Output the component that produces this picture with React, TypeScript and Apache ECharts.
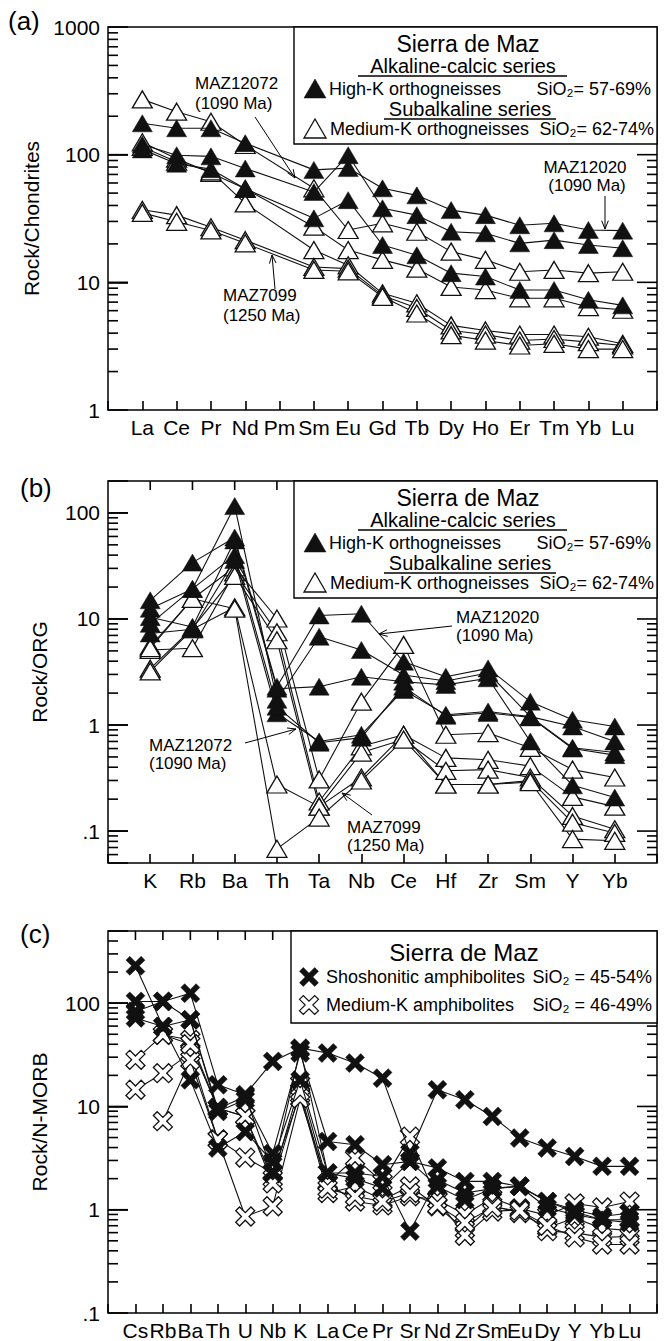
import React, { useEffect, useRef } from 'react';
import * as echarts from 'echarts';

const FONT = '"Liberation Sans", Arial, Helvetica, sans-serif';

// ---------- categories ----------
const REE_LABELS = ['La', 'Ce', 'Pr', 'Nd', 'Pm', 'Sm', 'Eu', 'Gd', 'Tb', 'Dy', 'Ho', 'Er', 'Tm', 'Yb', 'Lu'];
const ORG_LABELS = ['K', 'Rb', 'Ba', 'Th', 'Ta', 'Nb', 'Ce', 'Hf', 'Zr', 'Sm', 'Y', 'Yb'];
const MORB_LABELS = ['Cs', 'Rb', 'Ba', 'Th', 'U', 'Nb', 'K', 'La', 'Ce', 'Pr', 'Sr', 'Nd', 'Zr', 'Sm', 'Eu', 'Dy', 'Y', 'Yb', 'Lu'];

// ---------- panel (a): Rock/Chondrites ----------
const A_HIGHK_1 = [176, 161, 161, 123, null, 76, 78.5, 54.5, 48, 36.8, 33.6, 28, 29, 25.7, 25.4];
const A_HIGHK_2 = [120, 99, 97, 78, null, 51, 99, 38, 33.6, 24.9, 24.2, 20.2, 21.4, 19.6, 18.5];
const A_HIGHK_3 = [110, 85, 77, 54, null, 31.7, 44, 19.6, 16.3, 11.8, 11.1, 8.7, 8.7, 7.3, 6.6];
const A_MEDK_1 = [271, 217, 181, 119, null, 54.5, 25.7, 29, 24.9, 17.4, 15, 12.1, 12.5, 11.8, 12.1];
const A_MEDK_2 = [125, 93, 72, 54, null, 27.3, 17.9, 15, 12.8, 9.2, 8.7, 7.5, 7.5, 6.4, 6.1];
const A_MEDK_3 = [115, 88, 74, 41.5, null, 17.9, 13.6, 8.2, 6.85, 4.6, 4.2, 3.9, 3.9, 3.75, 3.3];
const A_MEDK_4 = [37, 33.6, 27, 21.4, null, 13.2, 12.8, 7.9, 6.3, 4.2, 3.9, 3.5, 3.6, 3.4, 3.2];
const A_MEDK_5 = [35, 29.8, 25.5, 20.2, null, 12.5, 12.2, 7.7, 5.7, 3.86, 3.5, 3.2, 3.3, 3.0, 3.0];

// ---------- panel (b): Rock/ORG ----------
const B_HIGHK_1 = [15, 34, 58.6, 2.3, 10.8, 11.2, 3.95, 2.85, 3.42, 1.66, 1.12, 0.97];
const B_HIGHK_2 = [12.5, 19.2, 116, 1.73, 6.8, 5.1, 2.96, 2.6, 3.1, 1.2, 0.97, 0.7];
const B_HIGHK_3 = [10.4, 8.4, 55, 2.2, 2.3, 2.85, 2.56, 2.39, 2.76, 0.7, 0.27, 0.207];
const B_HIGHK_4 = [7.3, 8.0, 36, 1.29, 0.7, 0.81, 2.14, 1.25, 1.34, 1.2, 0.61, 0.55];
const B_HIGHK_5 = [9.0, 19.2, 40, 1.49, 0.68, 0.76, 2.3, 1.22, 1.3, 1.18, 0.6, 0.52];
const B_MEDK_1 = [5.5, 15.5, 30.7, 10.1, 0.307, 1.66, 5.7, 0.81, 0.84, 0.61, 0.38, 0.32];
const B_MEDK_2 = [5.1, 5.3, 27.5, 7.5, 0.19, 0.63, 0.81, 0.49, 0.47, 0.41, 0.21, 0.17];
const B_MEDK_3 = [3.4, 8.2, 25.5, 6.3, 0.17, 0.55, 0.73, 0.37, 0.38, 0.32, 0.139, 0.104];
const B_MEDK_4 = [3.2, 8.0, 12.9, 0.275, 0.17, 0.32, 0.81, 0.275, 0.275, 0.3, 0.12, 0.096];
const B_MEDK_5 = [5.3, 15.5, 12.5, 0.068, 0.134, 0.3, 0.73, 0.275, 0.275, 0.29, 0.084, 0.081];

// ---------- panel (c): Rock/N-MORB ----------
const C_SHOSH_1 = [104, 104, 125, 16.2, 13, 27.3, 36.7, 32.9, 26.3, 18.8, 3.54, 14.5, 11.6, 8.0, 4.94, 3.96, 3.28, 2.63, 2.63];
const C_SHOSH_2 = [230, 59.5, 69, 8.95, 11.6, 3.5, 33, 4.58, 4.26, 2.73, 2.94, 2.54, 1.88, 1.88, 1.68, 1.2, 1.0, 0.86, 0.93];
const C_SHOSH_3 = [72, 59.5, 18.1, 3.96, 5.7, 2.9, 18, 2.27, 2.27, 2.1, 0.62, 1.95, 1.45, 1.6, 1.68, 1.04, 0.9, 0.8, 0.8];
const C_SHOSH_4 = [83, 104, 69, 9.5, 12.5, 2.3, 36, 2.27, 2.0, 1.62, 2.94, 1.68, 1.25, 1.6, 1.7, 1.2, 0.95, 0.8, 0.75];
const C_MEDK_1 = [28.3, 49.4, 44, 9.6, 8.0, 2.0, 16.4, 1.81, 3.17, 1.85, 5.1, 1.25, 0.9, 1.3, 1.03, 0.88, 1.15, 1.05, 1.2];
const C_MEDK_2 = [14.5, 21, 33, 4.8, 3.2, 2.27, 13, 1.45, 1.68, 1.25, 1.68, 1.08, 0.64, 1.1, 0.93, 0.67, 0.83, 0.66, 0.63];
const C_MEDK_3 = [null, 7.2, 28, 4.76, 0.86, 1.08, 12, 1.81, 1.2, 1.1, 1.35, 1.25, 0.56, 0.96, 1.0, 0.62, 0.6, 0.54, 0.55];
const C_MEDK_4 = [null, 49.4, 40, 9.6, 8.0, 1.8, 14, 1.6, 1.35, 1.2, 1.45, 1.1, 0.75, 1.05, 0.98, 0.7, 0.54, 0.46, 0.46];

// ---------- axis ranges / decades ----------
const A_RANGE = [1, 1000];
const B_RANGE = [0.05, 200];
const C_RANGE = [0.1, 500];
const A_DECADES = [1, 10, 100, 1000];
const B_DECADES = [0.01, 0.1, 1, 10, 100];
const C_DECADES = [0.1, 1, 10, 100];
const MINOR_STEPS = [2, 3, 4, 5, 6, 7, 8, 9];

const X_PATH = 'path://M0,2L2,0L5,3L8,0L10,2L7,5L10,8L8,10L5,7L2,10L0,8L3,5Z';

const GRIDS = [
  { left: 108, top: 27, width: 549, height: 383 },
  { left: 108, top: 481, width: 549, height: 382 },
  { left: 108, top: 931, width: 549, height: 382 },
];

const TICK_W = 1.6;

function yLabel(v: number): string {
  const l = Math.log10(v);
  if (Math.abs(l - Math.round(l)) > 1e-6) return '';
  const r = Math.round(l);
  if (r < 0) return '.' + '0'.repeat(-r - 1) + '1';
  return String(Math.round(Math.pow(10, r)));
}

function sampleSeries(values: (number | null)[], grid: number, kind: 'tri' | 'otri' | 'x' | 'ox') {
  const data: number[][] = [];
  values.forEach((v, i) => {
    if (v != null) data.push([i, v]);
  });
  const filled = kind === 'tri' || kind === 'x';
  const isX = kind === 'x' || kind === 'ox';
  return {
    type: 'line',
    xAxisIndex: grid,
    yAxisIndex: grid,
    data,
    symbol: isX ? X_PATH : 'triangle',
    symbolSize: isX ? [19, 19] : [20, 17],
    showSymbol: true,
    silent: true,
    z: filled ? 4 : 3,
    lineStyle: { color: '#111', width: 1.1 },
    itemStyle: filled
      ? { color: '#111', borderColor: '#111', borderWidth: 0.5 }
      : { color: '#fff', borderColor: '#111', borderWidth: 1.3 },
    emphasis: { disabled: true },
  };
}

function makeAxes(grid: number, labels: string[], range: number[], name: string) {
  const n = labels.length;
  const x = {
    type: 'value',
    gridIndex: grid,
    min: -1,
    max: n,
    interval: 1,
    position: 'bottom',
    axisLine: { show: false, onZero: false },
    splitLine: { show: false },
    axisTick: { show: true, inside: true, length: 9, lineStyle: { color: '#000', width: TICK_W } },
    axisLabel: {
      formatter: (v: number) => (v >= 0 && labels[Math.round(v)] !== undefined ? labels[Math.round(v)] : ''),
      color: '#000',
      fontSize: 21,
      fontFamily: FONT,
      margin: 7,
      showMinLabel: true,
      showMaxLabel: true,
    },
  };
  const y = {
    type: 'log',
    logBase: 10,
    gridIndex: grid,
    min: range[0],
    max: range[1],
    position: 'left',
    axisLine: { show: false, onZero: false },
    splitLine: { show: false },
    axisTick: { show: true, inside: true, length: 20, lineStyle: { color: '#000', width: TICK_W } },
    name,
    nameLocation: 'middle',
    nameGap: 58,
    nameTextStyle: { color: '#000', fontSize: 21, fontFamily: FONT },
    axisLabel: { formatter: yLabel, color: '#000', fontSize: 21, fontFamily: FONT, margin: 8, showMinLabel: true, showMaxLabel: true },
  };
  return { x, y };
}

// tick marks drawn as thin filled rectangles
function tickH(x: number, y: number, len: number) {
  const x0 = len >= 0 ? x : x + len;
  return { type: 'rect', shape: { x: x0, y: y - TICK_W / 2, width: Math.abs(len), height: TICK_W }, style: { fill: '#000' } };
}
function tickV(x: number, y: number, len: number) {
  const y0 = len >= 0 ? y : y + len;
  return { type: 'rect', shape: { x: x - TICK_W / 2, y: y0, width: TICK_W, height: Math.abs(len) }, style: { fill: '#000' } };
}

function txt(text: string, x: number, y: number, size: number, align = 'left') {
  return {
    type: 'text',
    x,
    y,
    z: 100,
    silent: true,
    style: { text, fill: '#000', fontSize: size, fontFamily: FONT, align, verticalAlign: 'middle' },
  };
}

function hline(x1: number, x2: number, y: number) {
  return { type: 'line', z: 100, silent: true, shape: { x1, y1: y, x2, y2: y }, style: { stroke: '#000', lineWidth: 1.3 } };
}

function arrow(from: number[], to: number[]) {
  const a = Math.atan2(to[1] - from[1], to[0] - from[0]);
  const L = 9;
  const p1 = [to[0] - L * Math.cos(a - 0.38), to[1] - L * Math.sin(a - 0.38)];
  const p2 = [to[0] - L * Math.cos(a + 0.38), to[1] - L * Math.sin(a + 0.38)];
  return [
    { type: 'line', z: 100, silent: true, shape: { x1: from[0], y1: from[1], x2: to[0], y2: to[1] }, style: { stroke: '#000', lineWidth: 1 } },
    { type: 'polyline', z: 100, silent: true, shape: { points: [p1, to, p2] }, style: { stroke: '#000', lineWidth: 1, fill: null } },
  ];
}

function triPoly(cx: number, cy: number, filled: boolean) {
  return {
    type: 'polygon',
    z: 101,
    silent: true,
    shape: { points: [[cx - 11, cy + 9], [cx + 11, cy + 9], [cx, cy - 10]] },
    style: filled ? { fill: '#111', stroke: '#111', lineWidth: 0.5 } : { fill: '#fff', stroke: '#111', lineWidth: 1.3 },
  };
}

function xPoly(cx: number, cy: number, filled: boolean) {
  const pts = [[0, 2], [2, 0], [5, 3], [8, 0], [10, 2], [7, 5], [10, 8], [8, 10], [5, 7], [2, 10], [0, 8], [3, 5]];
  const h = 9.5;
  return {
    type: 'polygon',
    z: 101,
    silent: true,
    shape: { points: pts.map((p) => [cx + ((p[0] - 5) / 5) * h, cy + ((p[1] - 5) / 5) * h]) },
    style: filled ? { fill: '#111', stroke: '#111', lineWidth: 0.5 } : { fill: '#fff', stroke: '#111', lineWidth: 1.2 },
  };
}

function orthoLegend(T: number) {
  const els: any[] = [];
  els.push({ type: 'rect', z: 99, silent: true, shape: { x: 294, y: T, width: 363, height: 117 }, style: { fill: '#fff', stroke: '#000', lineWidth: 1.4 } });
  els.push(txt('Sierra de Maz', 468, T + 17, 23, 'center'));
  els.push(txt('Alkaline-calcic series', 463, T + 39, 20, 'center'));
  els.push(hline(358, 567, T + 49));
  els.push(triPoly(315, T + 62, true));
  els.push(txt('High-K orthogneisses', 329, T + 62, 18));
  els.push(txt('SiO\u2082= 57-69%', 651, T + 62, 18, 'right'));
  els.push(txt('Subalkaline series', 470, T + 82, 20, 'center'));
  els.push(hline(384, 556, T + 92));
  els.push(triPoly(315, T + 102, false));
  els.push(txt('Medium-K orthogneisses', 330, T + 102, 18));
  els.push(txt('SiO\u2082= 62-74%', 654, T + 102, 18, 'right'));
  return els;
}

function amphLegend(T: number) {
  const els: any[] = [];
  els.push({ type: 'rect', z: 99, silent: true, shape: { x: 291, y: T, width: 366, height: 92 }, style: { fill: '#fff', stroke: '#000', lineWidth: 1.4 } });
  els.push(txt('Sierra de Maz', 464, T + 21, 24, 'center'));
  els.push(xPoly(309, T + 46, true));
  els.push(txt('Shoshonitic amphibolites', 326, T + 46, 18));
  els.push(txt('SiO\u2082 = 45-54%', 652, T + 46, 18, 'right'));
  els.push(xPoly(309, T + 74, false));
  els.push(txt('Medium-K amphibolites', 326, T + 74, 18));
  els.push(txt('SiO\u2082 = 46-49%', 652, T + 74, 18, 'right'));
  return els;
}

export default function App() {
  const ref = useRef<HTMLDivElement>(null);

  useEffect(() => {
    document.body.style.margin = '0';
    if (!ref.current) return;
    const chart = echarts.init(ref.current, null, { renderer: 'svg' });

    const axA = makeAxes(0, REE_LABELS, A_RANGE, 'Rock/Chondrites');
    const axB = makeAxes(1, ORG_LABELS, B_RANGE, 'Rock/ORG');
    const axC = makeAxes(2, MORB_LABELS, C_RANGE, 'Rock/N-MORB');

    const series: any[] = [
      ...[A_MEDK_1, A_MEDK_2, A_MEDK_3, A_MEDK_4, A_MEDK_5].map((s) => sampleSeries(s, 0, 'otri')),
      ...[A_HIGHK_1, A_HIGHK_2, A_HIGHK_3].map((s) => sampleSeries(s, 0, 'tri')),
      ...[B_MEDK_1, B_MEDK_2, B_MEDK_3, B_MEDK_4, B_MEDK_5].map((s) => sampleSeries(s, 1, 'otri')),
      ...[B_HIGHK_1, B_HIGHK_2, B_HIGHK_3, B_HIGHK_4, B_HIGHK_5].map((s) => sampleSeries(s, 1, 'tri')),
      ...[C_MEDK_1, C_MEDK_2, C_MEDK_3, C_MEDK_4].map((s) => sampleSeries(s, 2, 'ox')),
      ...[C_SHOSH_1, C_SHOSH_2, C_SHOSH_3, C_SHOSH_4].map((s) => sampleSeries(s, 2, 'x')),
    ];

    chart.setOption({
      animation: false,
      backgroundColor: '#fff',
      textStyle: { fontFamily: FONT },
      grid: GRIDS.map((g) => ({ ...g, show: true, borderColor: '#000', borderWidth: 1.5, backgroundColor: 'transparent' })),
      xAxis: [axA.x, axB.x, axC.x],
      yAxis: [axA.y, axB.y, axC.y],
      series,
    });

    // minor log ticks and the right/top tick rows, placed through the chart's own axis scales
    const panels = [
      { labels: REE_LABELS, range: A_RANGE, decades: A_DECADES, top: false },
      { labels: ORG_LABELS, range: B_RANGE, decades: B_DECADES, top: true },
      { labels: MORB_LABELS, range: C_RANGE, decades: C_DECADES, top: true },
    ];
    const ticks: any[] = [];
    panels.forEach((p, gi) => {
      const g = GRIDS[gi];
      const xl = g.left;
      const xr = g.left + g.width;
      const yt = g.top;
      const finder: any = { xAxisIndex: gi, yAxisIndex: gi };
      const toPx = (x: number, y: number): number[] => {
        const r: any = chart.convertToPixel(finder, [x, y]);
        return [Number(r[0]), Number(r[1])];
      };
      p.decades.forEach((d) => {
        if (d > p.range[0] * 1.0001 && d < p.range[1] * 0.9999) {
          const y = toPx(0, d)[1];
          ticks.push(tickH(xl, y, 20));
          ticks.push(tickH(xr, y, -20));
        }
        MINOR_STEPS.forEach((k) => {
          const v = d * k;
          if (v > p.range[0] && v < p.range[1]) {
            const y = toPx(0, v)[1];
            ticks.push(tickH(xl, y, 10));
            ticks.push(tickH(xr, y, -10));
          }
        });
      });
      if (p.top) {
        p.labels.forEach((_, i) => {
          const x = toPx(i, p.range[0] * 2)[0];
          ticks.push(tickV(x, yt, 9));
        });
      }
    });

    const graphic: any[] = [
      txt('(a)', 8, 21, 26),
      txt('(b)', 20, 488, 26),
      txt('(c)', 20, 934, 26),
      ...orthoLegend(27),
      ...orthoLegend(481),
      ...amphLegend(931),
      // panel (a) annotations
      txt('MAZ12072', 195, 83, 17),
      txt('(1090 Ma)', 195, 103, 17),
      ...arrow([255, 117], [295, 178]),
      txt('MAZ7099', 223, 295, 17),
      txt('(1250 Ma)', 223, 315, 17),
      ...arrow([275, 289], [272, 255]),
      txt('MAZ12020', 585, 167, 17, 'center'),
      txt('(1090 Ma)', 587, 185, 17, 'center'),
      ...arrow([605, 196], [605, 229]),
      // panel (b) annotations
      txt('MAZ12020', 456, 617, 17),
      txt('(1090 Ma)', 456, 635, 17),
      ...arrow([452, 626], [379, 634]),
      txt('MAZ12072', 149, 745, 17),
      txt('(1090 Ma)', 149, 763, 17),
      ...arrow([245, 743], [296, 729]),
      txt('MAZ7099', 347, 827, 17),
      txt('(1250 Ma)', 347, 845, 17),
      ...arrow([372, 815], [342, 793]),
      ...ticks,
    ];

    chart.setOption({ graphic });

    return () => {
      chart.dispose();
    };
  }, []);

  return <div ref={ref} style={{ width: 665, height: 1341 }} />;
}
